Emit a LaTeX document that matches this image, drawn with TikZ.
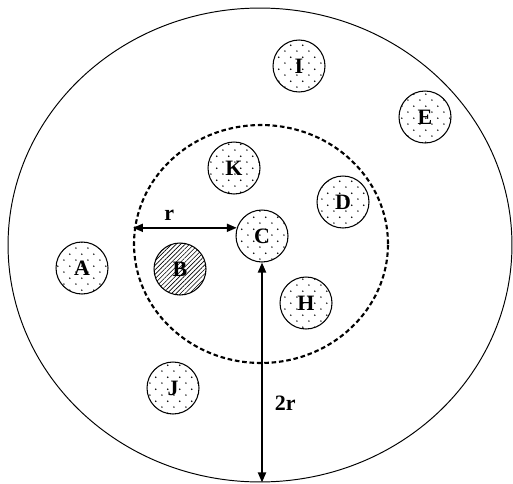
\documentclass[tikz,border=0pt]{standalone}
\usepackage{fontspec}
\setmainfont{Liberation Serif}
\usetikzlibrary{shapes.geometric,patterns.meta,arrows.meta}

\tikzdeclarepattern{
  name=sparsedots,
  type=uncolored,
  bottom left={(0pt,0pt)},
  top right={(7pt,7pt)},
  tile size={(7pt,7pt)},
  code={
    \fill (1.75pt,1.75pt) circle (0.48pt);
    \fill (5.25pt,5.25pt) circle (0.48pt);
  }
}

\tikzset{
  station/.style={circle, draw, line width=0.6pt, minimum size=1.04cm, inner sep=0pt,
    pattern=sparsedots, font=\fontsize{12.5}{14}\selectfont\bfseries},
  target/.style={station, pattern={Lines[angle=45,distance=1.8pt,line width=0.35pt]}},
  gauge/.style={{Triangle[length=0.2cm,width=0.16cm]}-{Triangle[length=0.2cm,width=0.16cm]},
    line width=1.1pt},
  lbl/.style={font=\fontsize{12.5}{14}\selectfont\bfseries}
}

\begin{document}
\begin{tikzpicture}[x=0.02cm, y=-0.02cm]
  \useasboundingbox (0,0) rectangle (513,483);
  % outer range and inner range
  \node[ellipse, draw, line width=0.55pt, minimum width=10.08cm, minimum height=9.48cm, inner sep=0pt] (field) at (260,245) {};
  \node[ellipse, draw, line width=1.2pt, dash pattern=on 2.6pt off 1.6pt, minimum width=5.08cm, minimum height=4.76cm, inner sep=0pt] (zone) at (261,244) {};
  % nodes
  \node[station] (I) at (299,66) {I};
  \node[station] (E) at (425,117) {E};
  \node[station] (K) at (234,168) {K};
  \node[station] (D) at (343,202) {D};
  \node[station] (C) at (262,236) {C};
  \node[station] (A) at (82,268) {A};
  \node[target]  (B) at (180,269) {B};
  \node[station] (H) at (306,303) {H};
  \node[station] (J) at (173,388) {J};
  % radii
  \draw[gauge] (zone.west |- C.162) -- node[lbl, pos=0.35, above] {r} (C.162);
  \draw[gauge] (C.south) -- node[lbl, pos=0.64, right=0.12cm] {2r} (C.south |- field.south);
\end{tikzpicture}
\end{document}
